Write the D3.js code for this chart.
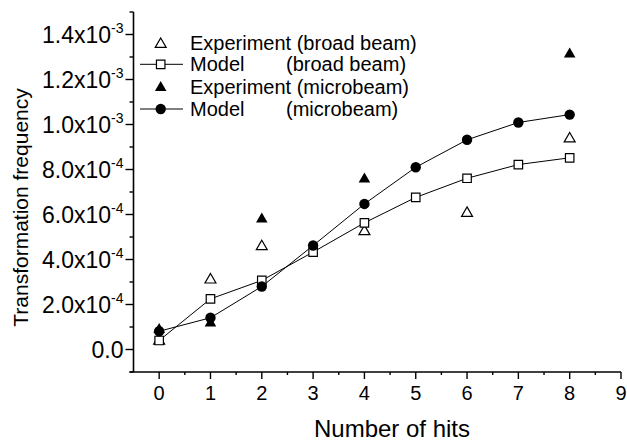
<!DOCTYPE html>
<html>
<head>
<meta charset="utf-8">
<script src="https://cdn.jsdelivr.net/npm/d3@7/dist/d3.min.js"></script>
<style>
  html, body { margin: 0; padding: 0; background: #fff; }
  svg { display: block; font-family: Arial, "Liberation Sans", Helvetica, sans-serif; }
</style>
</head>
<body>
<svg id="chart" width="627" height="442"></svg>
<script>
// Number of hits for each series
const hitsModel = [0, 1, 2, 3, 4, 5, 6, 7, 8];
const hitsExpBroad = [0, 1, 2, 4, 6, 8];
const hitsExpMicro = [0, 1, 2, 4, 8];

// Transformation frequencies
const expBroad = [0.42e-4, 3.14e-4, 4.62e-4, 5.29e-4, 6.10e-4, 9.41e-4];
const modelBroad = [0.40e-4, 2.25e-4, 3.07e-4, 4.33e-4, 5.63e-4, 6.76e-4, 7.61e-4, 8.22e-4, 8.52e-4];
const expMicro = [0.93e-4, 1.21e-4, 5.84e-4, 7.61e-4, 1.317e-3];
const modelMicro = [0.81e-4, 1.41e-4, 2.80e-4, 4.62e-4, 6.47e-4, 8.10e-4, 9.32e-4, 1.009e-3, 1.044e-3];

// Axis ticks and labels
const xTicks = [0, 1, 2, 3, 4, 5, 6, 7, 8, 9];
const yTicks = [0, 2e-4, 4e-4, 6e-4, 8e-4, 1.0e-3, 1.2e-3, 1.4e-3];
const yTickMant = ["0.0", "2.0x10", "4.0x10", "6.0x10", "8.0x10", "1.0x10", "1.2x10", "1.4x10"];
const yTickExp = ["", "-4", "-4", "-4", "-4", "-3", "-3", "-3"];

const legendLabels = ["Experiment (broad beam)", "Model", "Experiment (microbeam)", "Model"];
const legendNotes = ["", "(broad beam)", "", "(microbeam)"];

const svg = d3.select("#chart");

const x = d3.scaleLinear().domain([-0.5, 9]).range([133.5, 621]);
const y = d3.scaleLinear().domain([-1e-4, 1.5e-3]).range([372, 12]);

const ink = "#000";

// x axis: major ticks on integers, minor ticks on halves
const xAxis = svg.append("g").attr("transform", `translate(0,${y.range()[0]})`);
xAxis.append("line").attr("x1", x(-0.5) - 4).attr("x2", x(9)).attr("y1", 0).attr("y2", 0)
  .attr("stroke", ink).attr("stroke-width", 1.6);
xAxis.selectAll(".maj").data(xTicks).join("line")
  .attr("x1", d => x(d)).attr("x2", d => x(d)).attr("y1", 0).attr("y2", 7)
  .attr("stroke", ink).attr("stroke-width", 1.4);
xAxis.selectAll(".min").data(d3.range(-0.5, 9, 1).slice(1)).join("line")
  .attr("x1", d => x(d)).attr("x2", d => x(d)).attr("y1", 0).attr("y2", 3)
  .attr("stroke", ink).attr("stroke-width", 1.4);
xAxis.selectAll("text").data(xTicks).join("text")
  .attr("x", d => x(d)).attr("y", 27.5).attr("text-anchor", "middle")
  .attr("font-size", 20).attr("fill", ink).text(d => d);

// y axis with major and minor ticks pointing outward
const yAxis = svg.append("g").attr("transform", `translate(${x.range()[0]},0)`);
yAxis.append("line").attr("x1", 0).attr("x2", 0).attr("y1", y(1.5e-3)).attr("y2", y(-1e-4))
  .attr("stroke", ink).attr("stroke-width", 1.6);
yAxis.selectAll(".maj").data(yTicks).join("line")
  .attr("x1", -8).attr("x2", 0).attr("y1", d => y(d)).attr("y2", d => y(d))
  .attr("stroke", ink).attr("stroke-width", 1.4);
const yMinor = d3.range(-1, 16, 2).map(k => k * 1e-4);
yAxis.selectAll(".min").data(yMinor).join("line")
  .attr("x1", -4).attr("x2", 0).attr("y1", d => y(d)).attr("y2", d => y(d))
  .attr("stroke", ink).attr("stroke-width", 1.4);
const yLab = yAxis.selectAll(".lab").data(yTicks).join("text")
  .attr("x", -10).attr("y", d => y(d) + 8.3).attr("text-anchor", "end")
  .attr("font-size", 23).attr("fill", ink);
yLab.append("tspan").text((d, i) => yTickMant[i]);
yLab.append("tspan").attr("dy", -9.5).attr("font-size", 14).text((d, i) => yTickExp[i]);

// axis titles
svg.append("text").attr("x", 392).attr("y", 437).attr("text-anchor", "middle")
  .attr("font-size", 24).attr("fill", ink).text("Number of hits");
svg.append("text").attr("transform", "translate(27.5,207.5) rotate(-90)").attr("text-anchor", "middle")
  .attr("font-size", 21).attr("fill", ink).text("Transformation frequency");

// marker shapes
const triOpen = d3.symbol().type(d3.symbolTriangle).size(52);
const triFilled = d3.symbol().type(d3.symbolTriangle).size(58);
const square = d3.symbol().type(d3.symbolSquare).size(72);

const plot = svg.append("g");
const line = d3.line().x(d => x(d[0])).y(d => y(d[1]));

const broadPts = hitsModel.map((h, i) => [h, modelBroad[i]]);
const microPts = hitsModel.map((h, i) => [h, modelMicro[i]]);

plot.append("path").attr("d", line(broadPts)).attr("fill", "none").attr("stroke", ink).attr("stroke-width", 1);
plot.append("path").attr("d", line(microPts)).attr("fill", "none").attr("stroke", ink).attr("stroke-width", 1);

plot.selectAll(".eb").data(hitsExpBroad.map((h, i) => [h, expBroad[i]])).join("path")
  .attr("transform", d => `translate(${x(d[0])},${y(d[1]) + 1})`).attr("d", triOpen)
  .attr("fill", "#fff").attr("stroke", ink).attr("stroke-width", 1.2);
plot.selectAll(".em").data(hitsExpMicro.map((h, i) => [h, expMicro[i]])).join("path")
  .attr("transform", d => `translate(${x(d[0])},${y(d[1]) + 1})`).attr("d", triFilled)
  .attr("fill", ink);
plot.selectAll(".mb").data(broadPts).join("path")
  .attr("transform", d => `translate(${x(d[0])},${y(d[1])})`).attr("d", square)
  .attr("fill", "#fff").attr("stroke", ink).attr("stroke-width", 1.2);
plot.selectAll(".mm").data(microPts).join("circle")
  .attr("cx", d => x(d[0])).attr("cy", d => y(d[1])).attr("r", 5.2).attr("fill", ink);

// legend
const legend = svg.append("g");
const rowY = [43.3, 64.3, 86.7, 109];
const mx = 160.7;
legend.append("line").attr("x1", 140).attr("x2", 183).attr("y1", rowY[1]).attr("y2", rowY[1]).attr("stroke", ink).attr("stroke-width", 1);
legend.append("line").attr("x1", 140).attr("x2", 183).attr("y1", rowY[3]).attr("y2", rowY[3]).attr("stroke", ink).attr("stroke-width", 1);
legend.append("path").attr("transform", `translate(${mx},${rowY[0] + 1})`).attr("d", triOpen)
  .attr("fill", "#fff").attr("stroke", ink).attr("stroke-width", 1.2);
legend.append("path").attr("transform", `translate(${mx},${rowY[1]})`).attr("d", square)
  .attr("fill", "#fff").attr("stroke", ink).attr("stroke-width", 1.2);
legend.append("path").attr("transform", `translate(${mx},${rowY[2] + 1})`).attr("d", triFilled).attr("fill", ink);
legend.append("circle").attr("cx", mx).attr("cy", rowY[3]).attr("r", 5.2).attr("fill", ink);
legend.selectAll(".lt").data(legendLabels).join("text")
  .attr("x", 190).attr("y", (d, i) => rowY[i] + 7).attr("font-size", 20).attr("fill", ink).text(d => d);
legend.selectAll(".ln").data(legendNotes).join("text")
  .attr("x", 286).attr("y", (d, i) => rowY[i] + 7).attr("font-size", 20).attr("fill", ink).text(d => d);
</script>
</body>
</html>
